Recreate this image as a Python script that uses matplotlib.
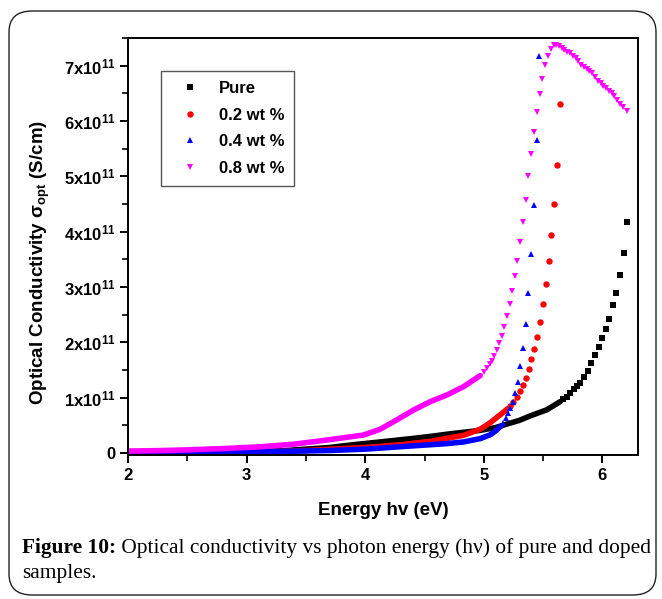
import matplotlib
matplotlib.use("Agg")
import matplotlib.pyplot as plt
from matplotlib.ticker import FuncFormatter, MultipleLocator
from matplotlib.patches import FancyBboxPatch

plt.rcParams['font.family'] = ['Liberation Sans', 'DejaVu Sans']
plt.rcParams['mathtext.fontset'] = 'custom'
plt.rcParams['mathtext.rm'] = 'Liberation Sans:bold'
plt.rcParams['mathtext.it'] = 'Liberation Sans:bold'
plt.rcParams['mathtext.bf'] = 'Liberation Sans:bold'
plt.rcParams['mathtext.default'] = 'regular'

SCALE = 1e11

# ---- data (values in units of 1e11 S/cm) ----
labels = ["Pure", "0.2 wt %", "0.4 wt %", "0.8 wt %"]
colors = ["black", "red", "blue", "magenta"]
markers = ["s", "o", "^", "v"]

# dense (continuous-looking) low-energy parts
pure_dense_E = [2.0, 2.5, 3.0, 3.3, 3.7, 3.9, 4.127, 4.3, 4.41, 4.55, 4.69, 4.83, 4.97, 5.1, 5.196, 5.3, 5.39, 5.53, 5.645]
pure_dense_v = [0.005, 0.005, 0.012, 0.04, 0.10, 0.15, 0.20, 0.24, 0.265, 0.30, 0.34, 0.375, 0.41, 0.46, 0.524, 0.59, 0.67, 0.78, 0.93]
red_dense_E = [2.0, 2.5, 3.0, 3.45, 4.0, 4.3, 4.55, 4.83, 4.97, 5.055, 5.12, 5.167, 5.2]
red_dense_v = [0.0, 0.004, 0.01, 0.04, 0.10, 0.15, 0.21, 0.32, 0.43, 0.55, 0.66, 0.74, 0.80]
blue_dense_E = [2.0, 2.5, 3.0, 3.45, 3.7, 4.0, 4.41, 4.69, 4.83, 4.97, 5.055, 5.1, 5.14]
blue_dense_v = [0.0, 0.005, 0.02, 0.035, 0.045, 0.07, 0.13, 0.17, 0.20, 0.26, 0.33, 0.40, 0.48]
mag_dense_E = [2.0, 2.3, 2.54, 2.8, 3.1, 3.4, 3.66, 3.986, 4.127, 4.267, 4.41, 4.55, 4.69, 4.83, 4.97]
mag_dense_v = [0.035, 0.045, 0.06, 0.08, 0.11, 0.16, 0.23, 0.325, 0.43, 0.60, 0.78, 0.93, 1.05, 1.20, 1.40]

# discrete high-energy points
pure_E = [5.67, 5.70, 5.73, 5.76, 5.786, 5.814, 5.846, 5.876, 5.907, 5.941, 5.972, 6.0, 6.028, 6.059, 6.087, 6.118, 6.146, 6.18, 6.208]
pure_v = [0.97, 1.02, 1.08, 1.15, 1.21, 1.27, 1.38, 1.49, 1.62, 1.78, 1.92, 2.08, 2.24, 2.43, 2.67, 2.90, 3.21, 3.62, 4.17]
red_E = [5.224, 5.25, 5.28, 5.305, 5.33, 5.356, 5.378, 5.40, 5.423, 5.446, 5.471, 5.497, 5.522, 5.547, 5.57, 5.595, 5.62, 5.646]
red_v = [0.85, 0.93, 1.02, 1.115, 1.235, 1.36, 1.52, 1.69, 1.875, 2.10, 2.37, 2.69, 3.05, 3.47, 3.94, 4.50, 5.21, 6.31]
blue_E = [5.16, 5.184, 5.204, 5.224, 5.243, 5.263, 5.285, 5.308, 5.33, 5.353, 5.376, 5.40, 5.423, 5.446, 5.468]
blue_v = [0.54, 0.63, 0.72, 0.81, 0.93, 1.09, 1.29, 1.57, 1.90, 2.33, 2.89, 3.59, 4.48, 5.65, 7.18]
mag_E = [5.0, 5.027, 5.05, 5.07, 5.09, 5.11, 5.13, 5.15, 5.173, 5.196, 5.218, 5.24, 5.263, 5.28,
         5.308, 5.327, 5.353, 5.376, 5.398, 5.423, 5.446, 5.471, 5.494, 5.519, 5.542, 5.564, 5.589,
         5.612, 5.634, 5.657, 5.679, 5.705, 5.727, 5.749, 5.775, 5.797, 5.82, 5.846, 5.868, 5.89,
         5.916, 5.938, 5.961, 5.986, 6.008, 6.03, 6.056, 6.078, 6.10, 6.127, 6.149, 6.175, 6.208]
mag_v = [1.46, 1.53, 1.60, 1.67, 1.75, 1.86, 1.98, 2.12, 2.28, 2.48, 2.69, 2.92, 3.20, 3.47,
         3.82, 4.18, 4.575, 5.00, 5.40, 5.80, 6.16, 6.49, 6.76, 7.01, 7.18, 7.31, 7.365,
         7.37, 7.35, 7.32, 7.28, 7.25, 7.22, 7.18, 7.13, 7.08, 7.02, 6.97, 6.94, 6.90,
         6.86, 6.80, 6.73, 6.68, 6.64, 6.59, 6.55, 6.50, 6.46, 6.38, 6.31, 6.26, 6.18]

caption_bold = "Figure 10:"
caption_line1 = " Optical conductivity vs photon energy (h\u03bd) of pure and doped"
caption_line2 = "samples."

dense = [(pure_dense_E, pure_dense_v), (red_dense_E, red_dense_v),
         (blue_dense_E, blue_dense_v), (mag_dense_E, mag_dense_v)]
discrete = [(pure_E, pure_v), (red_E, red_v), (blue_E, blue_v), (mag_E, mag_v)]

fig = plt.figure(figsize=(6.62, 5.99), dpi=100)
W, H = 662, 599

# outer rounded frame
frame = FancyBboxPatch((9 / W, 4 / H), (656 - 9) / W, (588 - 4) / H,
                       boxstyle="round,pad=0,rounding_size=0.035",
                       transform=fig.transFigure, facecolor="none",
                       edgecolor="#222222", linewidth=1.0, zorder=-1)
fig.patches.append(frame)

ax = fig.add_axes([128 / W, 1 - 455 / H, (638 - 128) / W, (455 - 38) / H])
ax.set_facecolor("white")

msizes = [3.8, 4.6, 5.0, 5.0]
for (de, dv), (e, v), c, m, lab, ms in zip(dense, discrete, colors, markers, labels, msizes):
    ax.plot(de, [x * SCALE for x in dv], color=c, lw=4.0, solid_capstyle="round",
            solid_joinstyle="round")
    ax.plot(e, [x * SCALE for x in v], linestyle="none", marker=m, color=c,
            markersize=ms, markeredgewidth=0, label=lab)

ax.set_xlim(2, 6.30)
ax.set_ylim(-0.036 * SCALE, 7.5 * SCALE)
ax.xaxis.set_major_locator(MultipleLocator(1))
ax.xaxis.set_minor_locator(MultipleLocator(0.5))
ax.yaxis.set_major_locator(MultipleLocator(1 * SCALE))
ax.yaxis.set_minor_locator(MultipleLocator(0.5 * SCALE))


def yfmt(val, pos):
    n = int(round(val / SCALE))
    if n == 0:
        return "0"
    return f"{n}x10$^{{11}}$"


ax.yaxis.set_major_formatter(FuncFormatter(yfmt))
ax.xaxis.set_major_formatter(FuncFormatter(lambda v, p: f"{int(round(v))}"))

for s in ax.spines.values():
    s.set_linewidth(1.4)
ax.tick_params(which="major", direction="out", length=6, width=1.4,
               labelsize=12, pad=3)
ax.tick_params(which="minor", direction="out", length=4, width=1.2)
for lbl in ax.get_xticklabels() + ax.get_yticklabels():
    lbl.set_fontweight("bold")

ax.set_xlabel("Energy hv (eV)", fontsize=13.5, fontweight="bold", labelpad=14)
ax.set_ylabel(r"Optical Conductivity $\mathrm{\sigma}_{opt}$ (S/cm)", fontsize=13.5,
              fontweight="bold")
ax.yaxis.set_label_coords(-0.149, 0.462)

leg = ax.legend(loc="upper left", bbox_to_anchor=(0.065, 0.921), frameon=True,
                fancybox=False, edgecolor="#555555", framealpha=1,
                prop={"weight": "bold", "size": 12}, labelspacing=0.7,
                handlelength=2.3, handletextpad=0.55, borderpad=0.6,
                borderaxespad=0, markerscale=1.0)
leg.get_frame().set_linewidth(1.0)

# caption
cap_fs = 15.4
t1 = fig.text(22 / W, 1 - 553 / H, caption_bold, fontsize=cap_fs, family="Liberation Serif",
              fontweight="bold", va="baseline", ha="left")
fig.canvas.draw()
bb = t1.get_window_extent(renderer=fig.canvas.get_renderer())
fig.text(bb.x1 / W, 1 - 553 / H, caption_line1, fontsize=cap_fs, family="Liberation Serif",
         va="baseline", ha="left")
fig.text(22 / W, 1 - 578 / H, caption_line2, fontsize=cap_fs, family="Liberation Serif",
         va="baseline", ha="left")
fig.savefig("out.png", dpi=100)
